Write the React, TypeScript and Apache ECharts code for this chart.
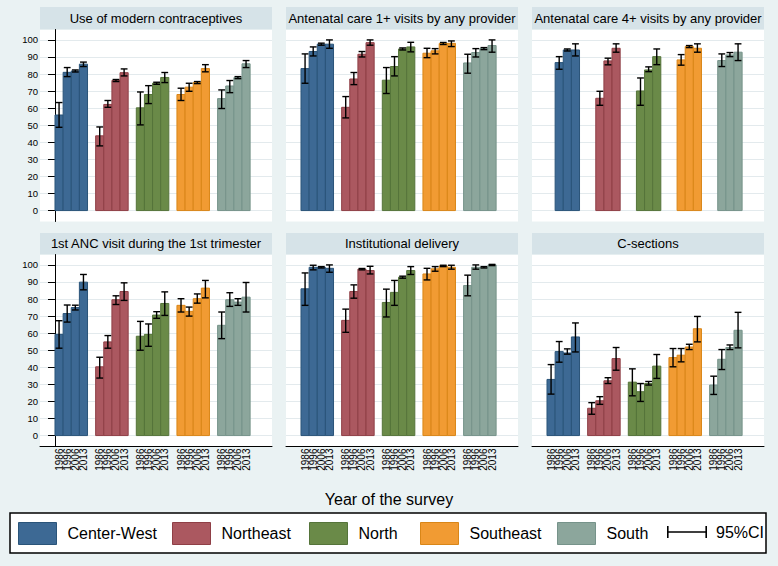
import React, { useEffect, useRef } from 'react';
import * as echarts from 'echarts';

const years = ['1986', '1996', '2006', '2013'];
const regions = ['Center-West', 'Northeast', 'North', 'Southeast', 'South'];

// Use of modern contraceptives
const contraVal = [[56, 81, 81.8, 85.8], [43.8, 62.2, 76.2, 80.8], [60.2, 68, 74.6, 78], [68, 72.3, 75, 83.2], [65.6, 73, 77.9, 86]];
const contraLow = [[48.8, 78.5, 81.2, 84.4], [37.9, 60.5, 75.6, 78.9], [50.2, 62.7, 74, 75], [64.5, 69.9, 74.4, 81.3], [59.8, 69.1, 77.3, 83.8]];
const contraHigh = [[63.3, 83.8, 82.4, 87], [49, 64.5, 76.8, 83], [69.5, 73.2, 75.2, 80.9], [71.7, 74.6, 75.6, 85.5], [70.7, 76.2, 78.5, 87.9]];

// Antenatal care 1+ visits
const anc1Val = [[83.2, 93.2, 97.5, 97.5], [60.5, 77.1, 91.6, 98.4], [76.4, 84.4, 94.7, 95.9], [92.2, 93.6, 97.9, 98], [86.5, 92.6, 94.9, 96.7]];
const anc1Low = [[74.6, 90.6, 96.9, 95.1], [54.3, 73.8, 90, 96.9], [68.6, 78.9, 94.1, 93], [89.6, 91.8, 97.3, 96.1], [80.5, 90, 94.3, 92.8]];
const anc1High = [[91.8, 95.9, 98.1, 100], [66.8, 80.9, 93.2, 100], [83.8, 90.2, 95.3, 98.6], [95.1, 94.9, 98.5, 99.4], [91.6, 94.9, 95.5, 100]];

// Antenatal care 4+ visits (no 1986 data)
const anc4Val = [[null, 86.7, 94.1, 94.1], [null, 65.8, 87.7, 95.1], [null, 70.1, 82.4, 90.2], [null, 88.3, 96.1, 95.1], [null, 87.9, 91.2, 92.8]];
const anc4Low = [[null, 82.8, 93.5, 90.6], [null, 61.7, 85.4, 92.8], [null, 61.7, 81.4, 85.5], [null, 85.2, 95.5, 92.8], [null, 84.4, 90.2, 87.9]];
const anc4High = [[null, 90.2, 94.7, 97.7], [null, 69.9, 89.3, 97.7], [null, 77.7, 84.2, 94.7], [null, 91.4, 96.7, 97.7], [null, 91.8, 92.6, 97.7]];

// 1st ANC visit during the 1st trimester
const trimVal = [[59.3, 71.5, 75, 89.9], [40.3, 54.9, 79.6, 84.4], [58.2, 59.3, 70.6, 77.4], [76.3, 72.8, 80.2, 86.4], [64.6, 79.6, 78.2, 81.1]];
const trimLow = [[51.2, 66.5, 73.6, 85.4], [33.7, 51.2, 76.8, 79.2], [50, 52.3, 68.7, 70.4], [72.4, 70, 77.6, 80.7], [56.8, 75.7, 76.3, 72.4]];
const trimHigh = [[67.3, 76.5, 76.4, 94.4], [45.9, 58.6, 81.9, 89.5], [66.9, 65.4, 72.6, 84.2], [80.2, 75.3, 83, 90.9], [72.4, 83.7, 80.2, 89.7]];

// Institutional delivery
const instVal = [[86, 98.6, 98.6, 98], [67.5, 84.4, 97.5, 96.7], [78, 83.9, 92.8, 96.7], [94.7, 97.7, 99.4, 98.6], [87.9, 98.6, 98.6, 100]];
const instLow = [[76.3, 97.1, 98.2, 95.7], [60.5, 80.5, 97.1, 94.7], [69.5, 76.3, 92.2, 94.4], [91.2, 96.3, 99, 97.5], [81.9, 97.5, 98.2, 99.6]];
const instHigh = [[95.3, 99.8, 99, 100], [74.1, 88.3, 97.9, 99.2], [85.8, 90.9, 93.4, 99], [98, 99, 99.8, 99.8], [94, 100, 99, 100.3]];

// C-sections
const csVal = [[32.9, 49.2, 48.4, 57.8], [16, 20.4, 32.1, 45.1], [31.3, 25.7, 30.5, 40.7], [45.7, 47.1, 51.9, 62.6], [29.6, 44.7, 51.6, 61.7]];
const csLow = [[24.3, 43, 47.7, 49], [12.5, 18.3, 30.5, 38.3], [23.3, 20, 29.6, 33.5], [40.3, 43.2, 50.4, 54.9], [24.1, 38.7, 50.4, 51.4]];
const csHigh = [[41.6, 55.1, 50.8, 66], [19.3, 22.8, 33.9, 51.6], [39.1, 30.5, 31.7, 47.5], [51, 51, 53.5, 69.8], [34.8, 50.4, 53.1, 72.2]];

const yTicks = [0, 10, 20, 30, 40, 50, 60, 70, 80, 90, 100];

const panels = [
  { title: 'Use of modern contraceptives', val: contraVal, low: contraLow, high: contraHigh },
  { title: 'Antenatal care 1+ visits by any provider', val: anc1Val, low: anc1Low, high: anc1High },
  { title: 'Antenatal care 4+ visits by any provider', val: anc4Val, low: anc4Low, high: anc4High },
  { title: '1st ANC visit during the 1st trimester', val: trimVal, low: trimLow, high: trimHigh },
  { title: 'Institutional delivery', val: instVal, low: instLow, high: instHigh },
  { title: 'C-sections', val: csVal, low: csLow, high: csHigh },
];

const regionFill = ['#3d6994', '#ab5860', '#6a8a48', '#f19b33', '#8ca69c'];
const regionEdge = ['#2a5479', '#8f3f46', '#55743a', '#d98618', '#76938a'];

const BG = '#eaf2f3';
const STRIP = '#d6e3e8';
const colLeft = [40, 286, 532];
const rowTop = [29.5, 254.5];
const stripTop = [7, 233];
const plotW = 232;
const plotH = 192;
const X_MIN = -1.845;
const X_MAX = X_MIN + plotW / 8.13;
const Y_MIN = -6.4;
const Y_MAX = 106.1;
const FONT = '"Liberation Sans", Arial, sans-serif';
const CI_ICON = 'path://M0,0h1.6v12h-1.6z M0,5.3h40v1.4h-40z M38.4,0h1.6v12h-1.6z';

function buildOption() {
  const grid: any[] = [];
  const xAxis: any[] = [];
  const yAxis: any[] = [];
  const series: any[] = [];
  const graphic: any[] = [];

  panels.forEach((pn, p) => {
    const row = Math.floor(p / 3);
    const col = p % 3;
    grid.push({
      left: colLeft[col], top: rowTop[row], width: plotW, height: plotH,
      show: true, backgroundColor: '#ffffff', borderWidth: 0, containLabel: false,
    });
    const bottomRow = row === 1;
    xAxis.push({
      type: 'value', gridIndex: p, min: X_MIN, max: X_MAX,
      show: bottomRow,
      axisLine: { show: bottomRow, onZero: false, lineStyle: { color: '#000', width: 1 } },
      axisTick: { show: false },
      splitLine: { show: false },
      axisLabel: { show: false },
    });
    const leftCol = col === 0;
    yAxis.push({
      type: 'value', gridIndex: p, min: Y_MIN, max: Y_MAX,
      axisLine: { show: leftCol, lineStyle: { color: '#000', width: 1 } },
      axisTick: { show: leftCol, customValues: yTicks, length: 7, lineStyle: { color: '#000', width: 1 } },
      axisLabel: { show: leftCol, customValues: yTicks, fontSize: 9.5, color: '#000', margin: 2, fontFamily: FONT },
      splitLine: { show: true, lineStyle: { color: '#e3eaed', width: 1 } },
    });

    regions.forEach((name, r) => {
      const data: any[] = [];
      years.forEach((_, j) => {
        const v = pn.val[r][j];
        if (v !== null && v !== undefined) data.push([r * 5 + j, v]);
      });
      const fill = regionFill[r];
      const edge = regionEdge[r];
      series.push({
        type: 'custom', name, xAxisIndex: p, yAxisIndex: p, data, silent: true,
        encode: { x: 0, y: 1 },
        itemStyle: { color: fill, borderColor: edge, borderWidth: 1 },
        renderItem: (params: any, api: any) => {
          const x = api.value(0);
          const v = api.value(1);
          const a = api.coord([x, v]);
          const b = api.coord([x + 1, 0]);
          return {
            type: 'rect',
            shape: { x: a[0], y: a[1], width: b[0] - a[0], height: b[1] - a[1] },
            style: { fill, stroke: edge, lineWidth: 1 },
          };
        },
      });
    });

    const ciData: any[] = [];
    regions.forEach((_, r) => years.forEach((__, j) => {
      const lo = pn.low[r][j];
      const hi = pn.high[r][j];
      if (lo !== null && hi !== null) ciData.push([r * 5 + j, lo, hi]);
    }));
    series.push({
      type: 'custom', name: '95%CI', xAxisIndex: p, yAxisIndex: p, data: ciData, silent: true, z: 5,
      encode: { x: 0, y: [1, 2] },
      itemStyle: { color: '#000' },
      renderItem: (params: any, api: any) => {
        const cx = api.value(0) + 0.5;
        const t = api.coord([cx, api.value(2)]);
        const bt = api.coord([cx, api.value(1)]);
        const w = 3.4;
        const st = { stroke: '#000', lineWidth: 1.4 };
        return {
          type: 'group',
          children: [
            { type: 'line', shape: { x1: t[0], y1: t[1], x2: bt[0], y2: bt[1] }, style: st },
            { type: 'line', shape: { x1: t[0] - w, y1: t[1], x2: t[0] + w, y2: t[1] }, style: st },
            { type: 'line', shape: { x1: bt[0] - w, y1: bt[1], x2: bt[0] + w, y2: bt[1] }, style: st },
          ],
        };
      },
    });

    if (bottomRow) {
      const labelData: any[] = [];
      regions.forEach((_, r) => years.forEach((__, j) => labelData.push([r * 5 + j, j])));
      series.push({
        type: 'custom', name: 'yearLabels', xAxisIndex: p, yAxisIndex: p, data: labelData,
        silent: true, clip: false,
        encode: { x: 0, y: 1 },
        renderItem: (params: any, api: any) => {
          const x = api.value(0) + 0.5;
          const j = api.value(1);
          const pt = api.coord([x, Y_MIN]);
          return {
            type: 'text',
            x: pt[0], y: pt[1] + 2,
            rotation: Math.PI / 2,
            style: {
              text: years[j], fill: '#000', font: `10px ${FONT}`,
              align: 'right', verticalAlign: 'middle',
            },
          };
        },
      });
    }

    graphic.push({
      type: 'rect', silent: true,
      shape: { x: colLeft[col], y: stripTop[row], width: plotW, height: rowTop[row] - stripTop[row] },
      style: { fill: STRIP },
    });
    graphic.push({
      type: 'text', silent: true,
      x: colLeft[col] + plotW / 2, y: (stripTop[row] + rowTop[row]) / 2,
      style: { text: pn.title, fill: '#000', font: `13px ${FONT}`, align: 'center', verticalAlign: 'middle' },
    });
  });

  graphic.push({
    type: 'rect', silent: true, z: -1,
    shape: { x: 10, y: 513, width: 756, height: 40 },
    style: { fill: '#ffffff', stroke: '#000', lineWidth: 1.5 },
  });

  const legendLefts = [18, 172, 309, 420, 557];
  const legend: any[] = regions.map((name, i) => ({
    data: [name], left: legendLefts[i], top: 522, padding: 0,
    icon: 'rect',
    itemWidth: 38, itemHeight: 22, selectedMode: false,
    itemStyle: { color: regionFill[i], borderColor: regionEdge[i], borderWidth: 1 },
    textStyle: { fontSize: 16, color: '#000', fontFamily: FONT, padding: [0, 0, 0, 6] },
  }));
  legend.push({
    data: ['95%CI'], left: 667, top: 524, padding: 0,
    icon: CI_ICON,
    itemWidth: 40, itemHeight: 12, selectedMode: false,
    itemStyle: { color: '#000', borderWidth: 0 },
    textStyle: { fontSize: 16, color: '#000', fontFamily: FONT, padding: [0, 0, 0, 4] },
  });

  return {
    animation: false,
    backgroundColor: BG,
    title: {
      text: 'Year of the survey', left: 'center', top: 486,
      textStyle: { fontSize: 16, fontWeight: 'normal', color: '#000', fontFamily: FONT },
    },
    grid, xAxis, yAxis, series, graphic, legend,
  };
}

export default function App() {
  const ref = useRef<HTMLDivElement>(null);
  useEffect(() => {
    document.body.style.margin = '0';
    if (!ref.current) return;
    const chart = echarts.init(ref.current, undefined, { renderer: 'svg' });
    chart.setOption(buildOption() as any);
    return () => chart.dispose();
  }, []);
  return <div ref={ref} style={{ width: 778, height: 566 }} />;
}
